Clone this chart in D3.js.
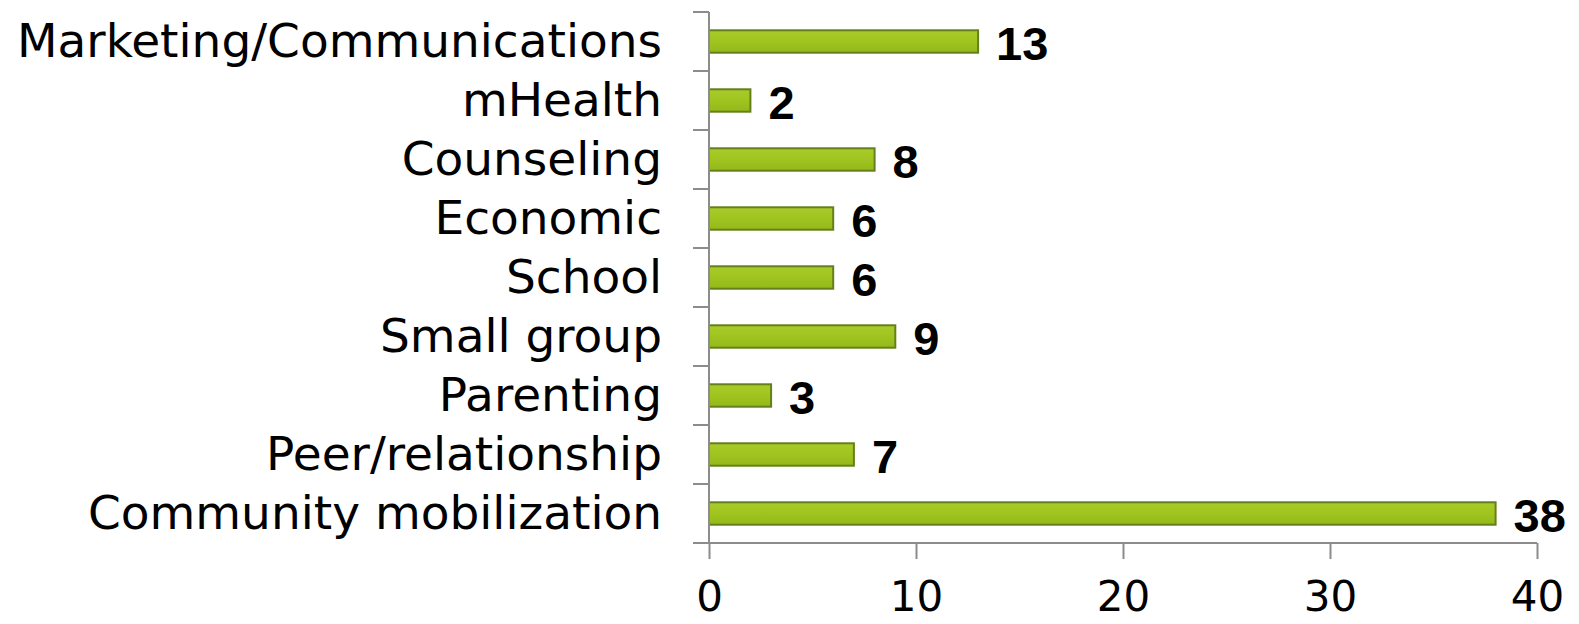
<!DOCTYPE html>
<html>
<head>
<meta charset="utf-8">
<script src="https://cdn.jsdelivr.net/npm/d3@7"></script>
<style>
  html, body { margin: 0; padding: 0; background: #fff; }
  svg { display: block; }
</style>
</head>
<body>
<svg id="chart" width="1579" height="624"></svg>
<script>
// categories listed top to bottom
const categories = [
    "Marketing/Communications",
    "mHealth",
    "Counseling",
    "Economic",
    "School",
    "Small group",
    "Parenting",
    "Peer/relationship",
    "Community mobilization"
];
const counts = [13, 2, 8, 6, 6, 9, 3, 7, 38];
const xTicks = [0, 10, 20, 30, 40];

const svg = d3.select('#chart');
const plotLeft = 709, plotRight = 1537, plotTop = 12, plotBottom = 543;

const x = d3.scaleLinear().domain([0, 40]).range([plotLeft, plotRight]);
const y = d3.scaleBand()
    .domain(categories)
    .range([plotTop, plotBottom])
    .paddingInner(0.62)
    .paddingOuter(0.31);

const axisColor = "#8c8c8c";

// bar gradient
const defs = svg.append("defs");
const grad = defs.append("linearGradient")
    .attr("id", "barFill")
    .attr("x1", 0).attr("y1", 0).attr("x2", 0).attr("y2", 1);
grad.append("stop").attr("offset", "0%").attr("stop-color", "#a9cb2c");
grad.append("stop").attr("offset", "50%").attr("stop-color", "#a0c41f");
grad.append("stop").attr("offset", "100%").attr("stop-color", "#93b81a");

// bars
svg.append("g").selectAll("rect")
    .data(categories)
    .join("rect")
    .attr("x", x(0))
    .attr("y", d => y(d))
    .attr("width", (d, i) => x(counts[i]) - x(0))
    .attr("height", y.bandwidth())
    .attr("fill", "url(#barFill)")
    .attr("stroke", "#64801a")
    .attr("stroke-width", 2);

// vertical axis with ticks at category boundaries
const yAxis = svg.append("g");
yAxis.append("line")
    .attr("x1", plotLeft).attr("x2", plotLeft)
    .attr("y1", plotTop).attr("y2", plotBottom)
    .attr("stroke", axisColor).attr("stroke-width", 2);
yAxis.selectAll("line.tick")
    .data(d3.range(categories.length + 1))
    .join("line")
    .attr("class", "tick")
    .attr("x1", plotLeft - 16).attr("x2", plotLeft)
    .attr("y1", i => plotTop + i * y.step())
    .attr("y2", i => plotTop + i * y.step())
    .attr("stroke", axisColor).attr("stroke-width", 2);

// category labels
svg.append("g").selectAll("text")
    .data(categories)
    .join("text")
    .attr("x", 662)
    .attr("y", d => y(d) + y.bandwidth() / 2 + 15)
    .attr("text-anchor", "end")
    .attr("font-family", "DejaVu Sans")
    .attr("font-size", "47px")
    .attr("fill", "#000")
    .text(d => d);

// horizontal axis
const xAxis = svg.append("g")
    .attr("transform", `translate(0,${plotBottom})`)
    .call(d3.axisBottom(x)
        .tickValues(xTicks)
        .tickSize(16)
        .tickSizeOuter(0)
        .tickPadding(22)
        .tickFormat(d3.format("d")));
xAxis.select(".domain").remove();
xAxis.append("line")
    .attr("x1", plotLeft).attr("x2", plotRight)
    .attr("y1", 0).attr("y2", 0)
    .attr("stroke", axisColor).attr("stroke-width", 2);
xAxis.selectAll(".tick line")
    .attr("stroke", axisColor).attr("stroke-width", 2);
xAxis.selectAll(".tick text")
    .attr("fill", "#000")
    .attr("font-family", "DejaVu Sans")
    .attr("font-size", "42px");

// value labels
svg.append("g").selectAll("text")
    .data(categories)
    .join("text")
    .attr("x", (d, i) => x(counts[i]) + 18)
    .attr("y", d => y(d) + y.bandwidth() / 2 + 18)
    .attr("font-family", "Liberation Sans")
    .attr("font-weight", "bold")
    .attr("font-size", "47px")
    .attr("fill", "#000")
    .text((d, i) => counts[i]);
</script>
</body>
</html>
